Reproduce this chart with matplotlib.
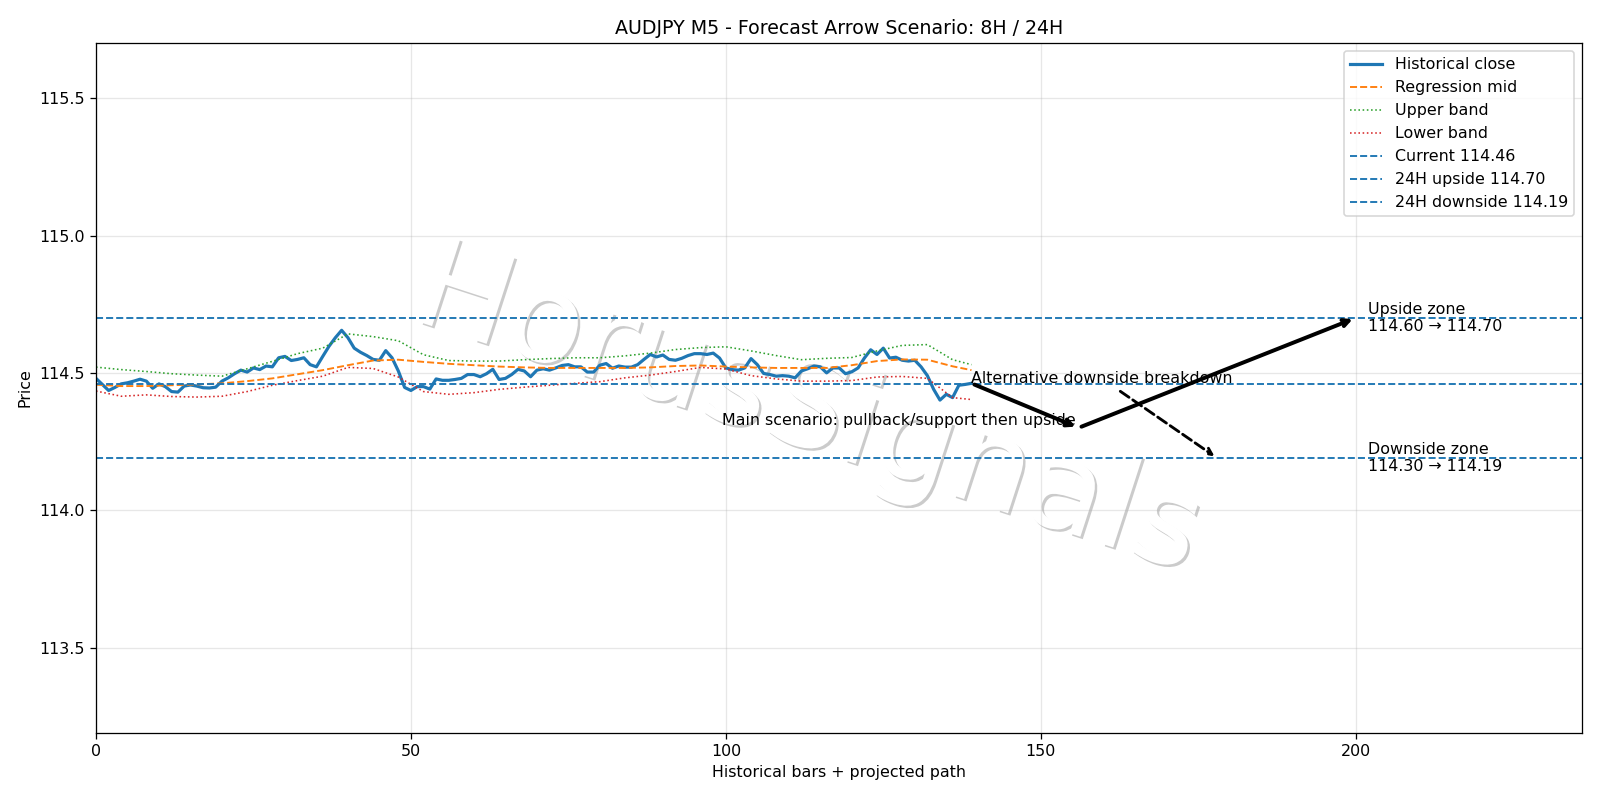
import numpy as np
import matplotlib
matplotlib.use("Agg")
import matplotlib.pyplot as plt
import matplotlib.patheffects as pe

# historical M5 closes, bars 0..139
close = [
    114.480, 114.458, 114.436, 114.447, 114.460, 114.464, 114.470, 114.477, 114.470, 114.444,
    114.460, 114.450, 114.432, 114.430, 114.452, 114.456, 114.452, 114.446, 114.445, 114.448,
    114.470, 114.482, 114.497, 114.510, 114.503, 114.518, 114.512, 114.525, 114.522, 114.555,
    114.560, 114.545, 114.549, 114.555, 114.530, 114.522, 114.560, 114.597, 114.628, 114.655,
    114.628, 114.590, 114.575, 114.563, 114.549, 114.546, 114.581, 114.555, 114.507, 114.447,
    114.436, 114.450, 114.450, 114.441, 114.478, 114.473, 114.473, 114.476, 114.480, 114.494,
    114.494, 114.486, 114.497, 114.513, 114.476, 114.480, 114.494, 114.513, 114.507, 114.486,
    114.510, 114.515, 114.510, 114.518, 114.527, 114.530, 114.522, 114.522, 114.503, 114.503,
    114.528, 114.534, 114.517, 114.525, 114.521, 114.521, 114.530, 114.549, 114.567, 114.558,
    114.565, 114.549, 114.546, 114.553, 114.563, 114.570, 114.570, 114.567, 114.572, 114.554,
    114.518, 114.512, 114.510, 114.518, 114.552, 114.530, 114.498, 114.494, 114.488, 114.490,
    114.488, 114.482, 114.507, 114.515, 114.525, 114.522, 114.500, 114.518, 114.518, 114.497,
    114.504, 114.518, 114.554, 114.584, 114.567, 114.590, 114.554, 114.557, 114.546, 114.543,
    114.546, 114.522, 114.490, 114.440, 114.401, 114.422, 114.410, 114.455, 114.458, 114.462,
]

# regression channel, read every 4 bars
band_x = [0, 4, 8, 12, 16, 20, 24, 28, 32, 36, 40, 44, 48, 52, 56, 60, 64, 68,
          72, 76, 80, 84, 88, 92, 96, 100, 104, 108, 112, 116, 120, 124, 128, 132, 136, 139]
mid = [114.457, 114.452, 114.452, 114.455, 114.458, 114.462, 114.470, 114.480, 114.495,
       114.510, 114.528, 114.545, 114.548, 114.540, 114.533, 114.528, 114.523, 114.520,
       114.518, 114.518, 114.518, 114.518, 114.520, 114.525, 114.527, 114.523, 114.520,
       114.518, 114.518, 114.518, 114.528, 114.543, 114.549, 114.548, 114.524, 114.510]
upper = [114.521, 114.512, 114.505, 114.497, 114.492, 114.488, 114.515, 114.542, 114.570,
         114.590, 114.642, 114.632, 114.617, 114.566, 114.545, 114.543, 114.543, 114.548,
         114.552, 114.555, 114.555, 114.562, 114.572, 114.585, 114.592, 114.595, 114.580,
         114.563, 114.548, 114.553, 114.556, 114.580, 114.600, 114.603, 114.548, 114.530]
lower = [114.434, 114.415, 114.420, 114.414, 114.412, 114.415, 114.432, 114.455, 114.472,
         114.488, 114.520, 114.516, 114.485, 114.432, 114.422, 114.428, 114.440, 114.448,
         114.455, 114.462, 114.468, 114.482, 114.492, 114.505, 114.520, 114.514, 114.490,
         114.478, 114.470, 114.470, 114.472, 114.485, 114.487, 114.480, 114.410, 114.403]

current = 114.46
up_24h = 114.70
down_24h = 114.19
pullback = (156, 114.30)
target = (200, 114.70)
alt_end = (178, 114.19)

fig, ax = plt.subplots(figsize=(14, 7), dpi=114.286)
fig.subplots_adjust(left=0.06, right=0.989, bottom=0.084, top=0.946)

x = np.arange(len(close))
ax.plot(x, close, color="C0", lw=2, label="Historical close")
ax.plot(band_x, mid, "--", color="C1", lw=1.2, label="Regression mid")
ax.plot(band_x, upper, ":", color="C2", lw=1, label="Upper band")
ax.plot(band_x, lower, ":", color="C3", lw=1, label="Lower band")
ax.axhline(current, ls="--", color="C0", lw=1.2, label=f"Current {current:.2f}")
ax.axhline(up_24h, ls="--", color="C0", lw=1.2, label=f"24H upside {up_24h:.2f}")
ax.axhline(down_24h, ls="--", color="C0", lw=1.2, label=f"24H downside {down_24h:.2f}")

last = len(close) - 1
ax.annotate("", xy=pullback, xytext=(last, close[-1]),
            arrowprops=dict(arrowstyle="->", lw=2.5, color="black"))
ax.annotate("", xy=target, xytext=pullback,
            arrowprops=dict(arrowstyle="->", lw=2.5, color="black"))
ax.annotate("Alternative downside breakdown", xy=alt_end, xytext=(last, 114.462),
            ha="left", va="baseline",
            arrowprops=dict(arrowstyle="->", lw=1.8, ls="--", color="black"))
ax.text(127.5, 114.326, "Main scenario: pullback/support then upside",
        ha="center", va="center")
ax.text(202, up_24h, "Upside zone\n114.60 \u2192 114.70", va="center")
ax.text(202, down_24h, "Downside zone\n114.30 \u2192 114.19", va="center")

# watermark
ax.text(0.505, 0.485, "HorusSignals", transform=fig.transFigure, fontsize=79,
        color="white", rotation=-18, ha="center", va="center", zorder=0.5,
        path_effects=[pe.withSimplePatchShadow(offset=(1.5, -1.5), shadow_rgbFace="0.55", alpha=0.45)])

ax.set_xlim(0, 236)
ax.set_ylim(down_24h - 1.0, up_24h + 1.0)
ax.set_title("AUDJPY M5 - Forecast Arrow Scenario: 8H / 24H")
ax.set_xlabel("Historical bars + projected path")
ax.set_ylabel("Price")
ax.grid(True, alpha=0.3)
ax.legend(loc="upper right")

fig.savefig("out.png", dpi=114.286)
